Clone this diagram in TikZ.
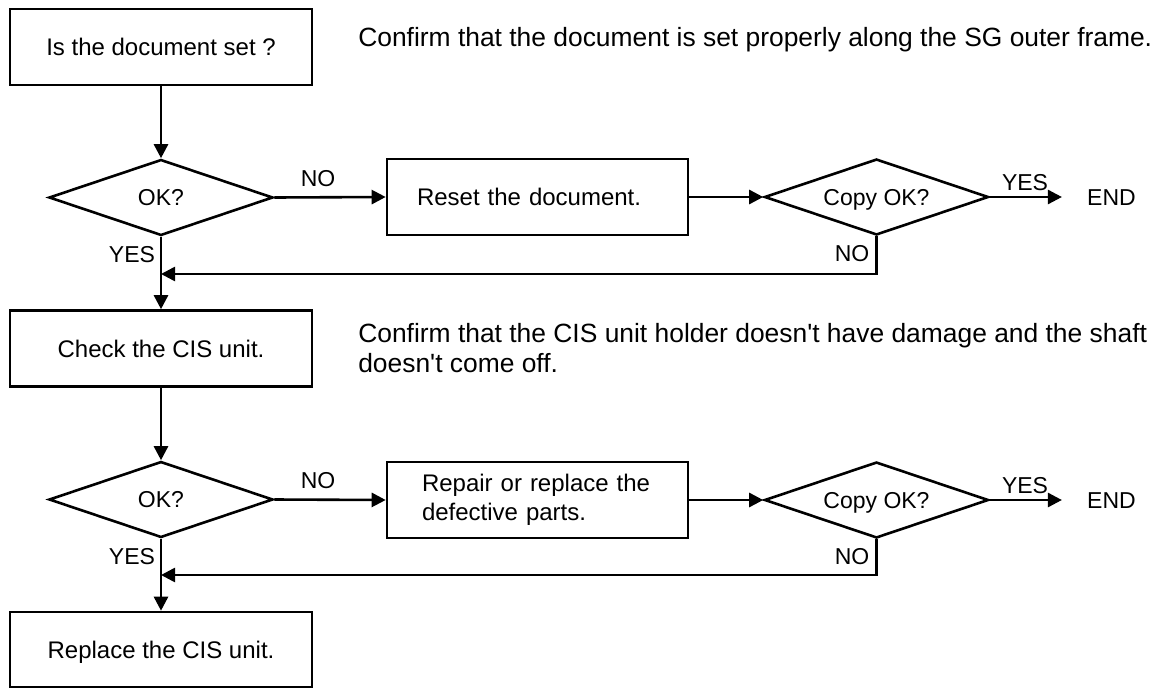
\documentclass[tikz,border=0pt]{standalone}
\usepackage{fontspec}
\setmainfont{Liberation Sans}
\newfontfamily\plainsans{Liberation Sans}
\usetikzlibrary{shapes.geometric,arrows.meta}
\begin{document}
\begin{tikzpicture}[x=1pt,y=-1pt,
  line width=2.6pt,
  box/.style={draw, rectangle, minimum width=302pt, minimum height=76pt,
    font=\fontsize{24}{29}\selectfont, inner sep=0pt, text height=17.2pt, text depth=0pt},
  lbox/.style={draw, rectangle, minimum height=76pt,
    font=\fontsize{24}{29}\selectfont, align=left, inner ysep=0pt},
  dia/.style={draw, diamond, shape aspect=3, minimum width=224pt, minimum height=76pt, inner sep=0pt,
    font=\fontsize{23}{27}\selectfont, text height=16.5pt, text depth=0pt},
  lbl/.style={font=\fontsize{23}{27}\selectfont, inner sep=0pt, text height=16.5pt, text depth=0pt},
  desc/.style={font=\plainsans\fontsize{26.4}{30}\selectfont, inner sep=0pt, anchor=base west, align=left},
  arr/.style={-{Triangle[length=14pt,width=14pt]}},
]
\useasboundingbox (0,0) rectangle (1161,688);

% top part
\node[box] (b1) at (161,47) {Is the document set ?};
\node[dia] (d1) at (161,197.5) {OK?};
\node[lbox, inner xsep=30pt, text width=241pt] (b2) at (537.5,197) {Reset the document.};
\node[dia] (d2) at (876.5,197) {Copy OK?};
\node[lbl, inner xsep=24pt] (e1) at (1111.5,197) {END};
\coordinate (j1) at (161,274);
\node[desc] (t1) at (357,46.5) {Confirm that the document is set properly along the SG outer frame.};

\node[lbl] (n1) at (318,178) {NO};
\node[lbl] (y1) at (1025,182) {YES};
\node[lbl] (n2) at (852,253) {NO};
\node[lbl] (y2) at (132,254) {YES};

% bottom part
\node[box] (b3) at (161,348.5) {Check the CIS unit.};
\node[desc] (t2) at (357,372.5) {Confirm that the CIS unit holder doesn't have damage and the shaft\\doesn't come off.};
\node[dia] (d3) at (161,499.5) {OK?};
\node[lbox, inner xsep=35pt, text width=231pt] (b4) at (537.5,500) {Repair or replace the\\defective parts.};
\node[dia] (d4) at (876.5,500) {Copy OK?};
\node[lbl, inner xsep=24pt] (e2) at (1111.5,500) {END};
\coordinate (j2) at (161,575);
\node[box, minimum height=75pt] (b5) at (161,649.5) {Replace the CIS unit.};

\node[lbl] (n3) at (318,480) {NO};
\node[lbl] (y3) at (1025,485) {YES};
\node[lbl] (n4) at (852,556) {NO};
\node[lbl] (y4) at (132,556) {YES};

% connectors
\draw[arr] (b1.south) -- (d1.north);
\draw[arr] (d1.east) -- (b2.west);
\draw[arr] (b2.east) -- (d2.west);
\draw[arr] (d2.east) -- (e1.west);
\draw[arr] (d2.south) |- (j1);
\draw[arr] (d1.south) -- (b3.north);

\draw[arr] (b3.south) -- (d3.north);
\draw[arr] (d3.east) -- (b4.west);
\draw[arr] (b4.east) -- (d4.west);
\draw[arr] (d4.east) -- (e2.west);
\draw[arr] (d4.south) |- (j2);
\draw[arr] (d3.south) -- (b5.north);
\end{tikzpicture}
\end{document}
